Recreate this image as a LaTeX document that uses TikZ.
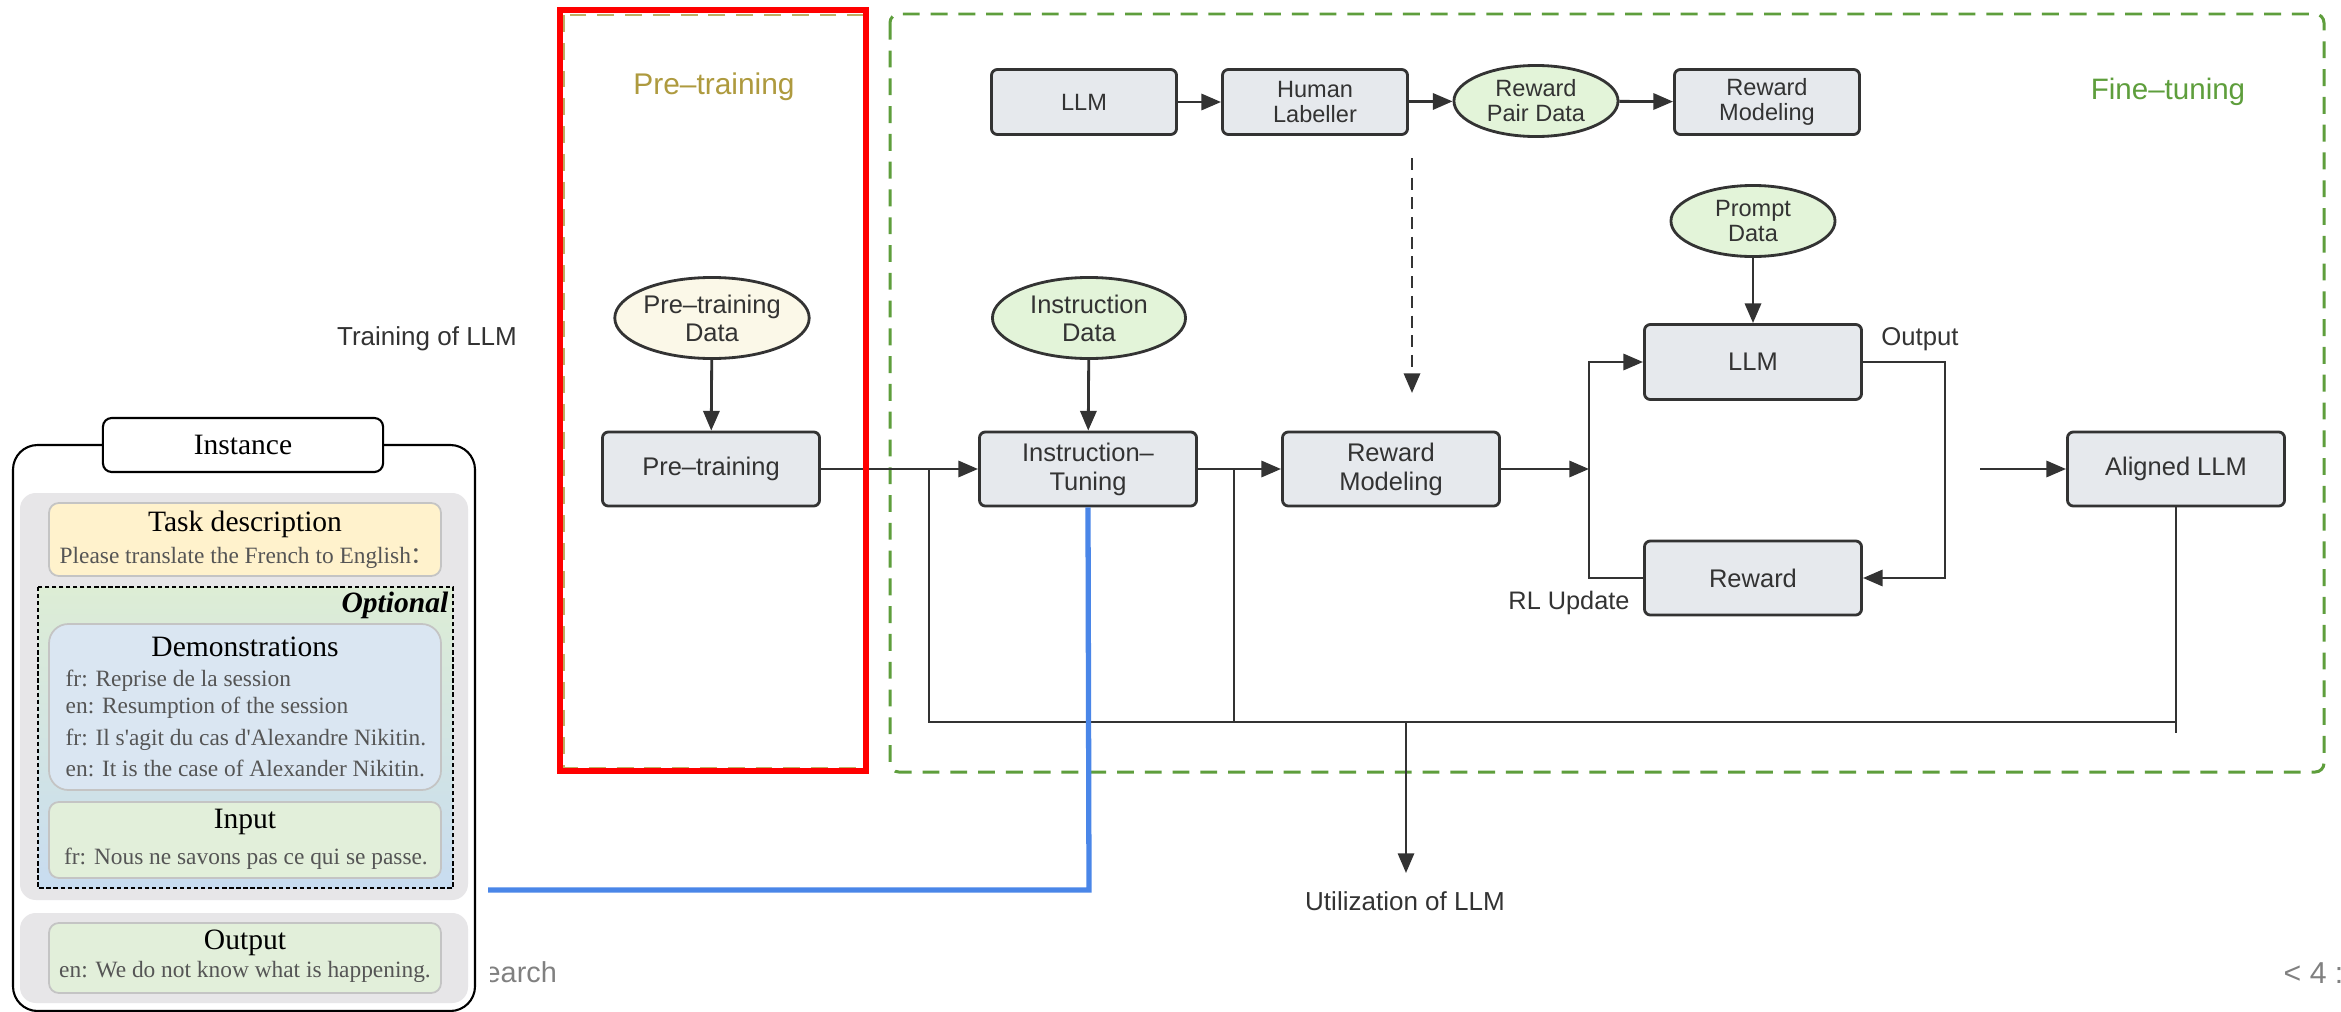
\documentclass[tikz,border=0pt]{standalone}
\usepackage{fontspec}
\setmainfont{Liberation Sans}
\newfontfamily\serifx{Liberation Serif}
\newfontfamily\cjkfont{Noto Sans CJK SC}
\usetikzlibrary{shapes.geometric,arrows.meta}

\definecolor{linec}{HTML}{333333}
\definecolor{boxfill}{HTML}{E6E9ED}
\definecolor{greenfill}{HTML}{E3F4D9}
\definecolor{creamfill}{HTML}{FBF8E8}
\definecolor{olivec}{HTML}{AE9A3E}
\definecolor{fgreen}{HTML}{5E9E3C}
\definecolor{redc}{HTML}{FF0000}
\definecolor{bluec}{HTML}{4A86E8}
\definecolor{panelgray}{HTML}{E7E6E8}
\definecolor{taskfill}{HTML}{FFF2CC}
\definecolor{demofill}{HTML}{DAE6F2}
\definecolor{iofill}{HTML}{E2EFDA}
\definecolor{optgreen}{HTML}{DDEDD5}
\definecolor{optblue}{HTML}{C8DCF0}
\definecolor{cardline}{HTML}{C4C4C4}
\definecolor{bodyc}{HTML}{555555}
\definecolor{slidegray}{HTML}{808080}

\begin{document}
\begin{tikzpicture}[x=0.01cm, y=-0.01cm,
  >={Triangle[length=5.6pt,width=4.6pt]},
  conn/.style={draw=linec, line width=0.8pt},
  arr/.style={conn, ->},
  stepbox/.style={rectangle, draw=linec, line width=0.8pt, fill=boxfill,
    rounded corners=1.7pt, minimum width=2.17cm, minimum height=0.74cm,
    inner sep=0pt, align=center, text=linec,
    font=\fontsize{7.25pt}{8.25pt}\selectfont},
  topbox/.style={stepbox, minimum width=1.85cm, minimum height=0.65cm,
    font=\fontsize{6.7pt}{7.1pt}\selectfont},
  dataell/.style={ellipse, draw=linec, line width=0.8pt, fill=greenfill,
    inner sep=0pt, align=center, text=linec, minimum width=1.93cm,
    minimum height=0.81cm, font=\fontsize{7.25pt}{8pt}\selectfont},
  topell/.style={dataell, minimum width=1.64cm, minimum height=0.71cm,
    font=\fontsize{6.7pt}{7.1pt}\selectfont},
  plainlbl/.style={inner sep=0pt, text=linec,
    font=\fontsize{7.4pt}{8.4pt}\selectfont},
  grouptitle/.style={inner sep=0pt, font=\fontsize{8.5pt}{9.5pt}\selectfont},
  panel/.style={fill=panelgray, draw=none, rounded corners=4.5pt},
  card/.style={draw=cardline, line width=0.5pt, rounded corners=2.8pt},
  sertitle/.style={inner sep=0pt, text=black,
    font=\serifx\fontsize{8.4pt}{9.5pt}\selectfont},
  serbody/.style={inner sep=0pt, text=bodyc,
    font=\serifx\fontsize{6.65pt}{7.5pt}\selectfont},
  footer/.style={inner sep=0pt, text=slidegray,
    font=\fontsize{8.2pt}{9pt}\selectfont},
]
\useasboundingbox (0,0) rectangle (2341,1012);
\fill[white] (0,0) rectangle (2341,1012);

% ---------- slide footer remnants ----------
\begin{scope}
  \clip (490,930) rectangle (700,1012);
  \node[footer, anchor=west] (foot) at (484,972) {earch};
\end{scope}
\node[footer, anchor=west, font=\fontsize{8.6pt}{9pt}\selectfont] (page) at (2283,973) {< 4 :};

% ---------- group frames ----------
\draw[fgreen, line width=0.85pt, dash pattern=on 4.8pt off 3.1pt, rounded corners=2.5pt]
  (890,14) rectangle (2324,772);
\draw[olivec!80, line width=0.6pt, dash pattern=on 4.8pt off 3.1pt]
  (564,15) rectangle (864,768);

\node[grouptitle, text=olivec] (pttitle) at (714,87) {Pre–training};
\node[grouptitle, text=fgreen, font=\fontsize{8.4pt}{9.5pt}\selectfont] (fttitle) at (2168,92) {Fine–tuning};
\node[plainlbl] (trainlbl) at (427,339) {Training of LLM};
\node[plainlbl] (utillbl) at (1405,901) {Utilization of LLM};

% ---------- pre-training ----------
\node[dataell, fill=creamfill] (ptdata) at (712,318) {Pre–training\\Data};
\node[stepbox] (pt) at (711,469) {Pre–training};

% ---------- reward model data collection ----------
\node[topbox] (llmtop) at (1084,102) {LLM};
\node[topbox] (human) at (1315,102) {Human\\Labeller};
\node[topell] (rpd) at (1536,101) {Reward\\Pair Data};
\node[topbox] (rmtop) at (1767,102) {Reward\\Modeling};

% ---------- fine-tuning pipeline ----------
\node[dataell] (insdata) at (1089,318) {Instruction\\Data};
\node[stepbox] (it) at (1088,469) {Instruction–\\Tuning};
\node[stepbox] (rm) at (1391,469) {Reward\\Modeling};
\node[topell] (prompt) at (1753,221) {Prompt\\Data};
\node[stepbox, minimum height=0.75cm] (llm) at (1753,362) {LLM};
\node[stepbox] (reward) at (1753,578) {Reward};
\node[stepbox] (aligned) at (2176,469) {Aligned LLM};
\node[plainlbl, font=\fontsize{7.3pt}{8pt}\selectfont] (outlbl) at (1920,339) {Output};
\node[plainlbl, font=\fontsize{7.2pt}{8pt}\selectfont] (rllbl) at (1569,603) {RL Update};

% junction points
\coordinate (j1) at (929,469);
\coordinate (j2) at (1234,469);
\coordinate (j3) at (1589,469);
\coordinate (b1) at (929,722);
\coordinate (b2) at (1234,722);
\coordinate (bu) at (1406,722);
\coordinate (bend) at (2176,722);
\coordinate (utiltip) at (1406,873);
\coordinate (loopx) at (1945,362);
\coordinate (alin) at (1980,469);
\coordinate (dashtop) at (1412,158);
\coordinate (dashtip) at (1412,393);
\coordinate (bluecorner) at (1089,890);
\coordinate (blueend) at (488,890);

% ---------- connectors ----------
\draw[arr] (ptdata) -- (pt);
\draw[arr] (insdata) -- (it);
\draw[arr] (prompt) -- (llm);
\draw[arr] (llmtop) -- (human);
\draw[arr] (human) -- (rpd);
\draw[arr] (rpd) -- (rmtop);
\draw[arr] (pt.east) -- (it.west);
\draw[arr] (it.east) -- (rm.west);
\draw[arr] (rm.east) -- (j3);
\draw[arr] (reward.west) -| (llm.west -| j3) -- (llm.west);
\draw[arr] (llm.east) -- (loopx) |- (reward.east);
\draw[arr] (alin) -- (aligned.west);
\draw[conn] (j1) -- (b1) -- (bend);
\draw[conn] (j2) -- (b2);
\draw[conn] (aligned.south) -- ([yshift=-3]bend);
\draw[arr, line width=0.7pt] (bu) -- (utiltip);
\draw[arr, dash pattern=on 3.4pt off 2.2pt] (dashtop) -- (dashtip);

% pre-training frame
\draw[redc, line width=1.7pt] (560,10) rectangle (866,771);

% link to the instance panel
\draw[bluec, line width=1.5pt] (it.south) -- (bluecorner) -- (blueend);

% ---------- instance panel ----------
\draw[black, line width=0.6pt, fill=white, rounded corners=7pt] (13,445) rectangle (475,1011);
\node[draw=black, line width=0.6pt, fill=white, rounded corners=2.5pt,
  minimum width=2.8cm, minimum height=0.54cm, sertitle] (inst) at (243,445) {Instance};

\fill[panel] (20,493) rectangle (468,900);
\draw[card, fill=taskfill] (49,503) rectangle (441,576);
\node[sertitle] (tasktitle) at (245,524) {Task description};
\node[serbody] (tasktext) at (247,558) {Please translate the French to English{\cjkfont ：}};

\draw[line width=0.4pt, dash pattern=on 1.2pt off 0.8pt, top color=optgreen, bottom color=optblue]
  (38,587) rectangle (453,888);
\node[sertitle, anchor=east, font=\serifx\bfseries\itshape\fontsize{8.4pt}{9.5pt}\selectfont]
  (optlbl) at (449,605) {Optional};

\draw[card, fill=demofill, rounded corners=5.5pt] (49,624) rectangle (441,790);
\node[sertitle] (demotitle) at (245,647) {Demonstrations};
\node[serbody, anchor=west] (d1) at (65,681) {fr: Reprise de la session};
\node[serbody, anchor=west] (d2) at (65,708) {en: Resumption of the session};
\node[serbody, anchor=west] (d3) at (65,740) {fr: Il s\textquotesingle agit du cas d\textquotesingle Alexandre Nikitin.};
\node[serbody, anchor=west] (d4) at (65,768) {en: It is the case of Alexander Nikitin.};

\draw[card, fill=iofill] (49,802) rectangle (441,878);
\node[sertitle] (intitle) at (245,822) {Input};
\node[serbody] (intext) at (246,859) {fr: Nous ne savons pas ce qui se passe.};

\fill[panel] (20,913) rectangle (468,1003);
\draw[card, fill=iofill] (49,923) rectangle (441,993);
\node[sertitle] (outtitle) at (245,943) {Output};
\node[serbody] (outtext) at (245,972) {en: We do not know what is happening.};
\end{tikzpicture}
\end{document}
